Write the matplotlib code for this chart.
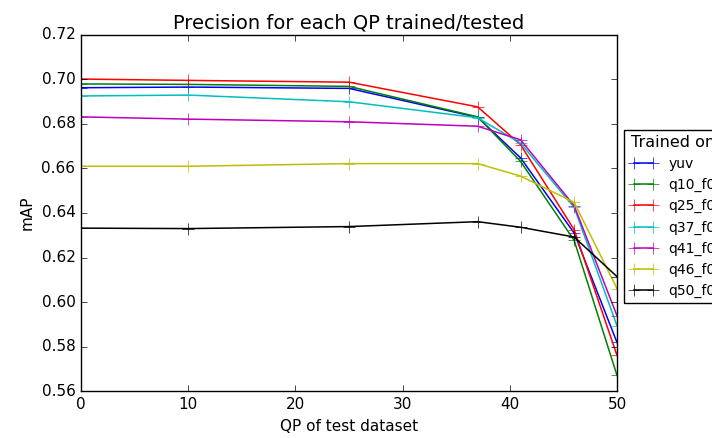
import matplotlib
matplotlib.use("Agg")
import matplotlib.pyplot as plt

plt.style.use('classic')

qp = [0, 10, 25, 37, 41, 46, 50]
labels = ["yuv", "q10_f0", "q25_f0", "q37_f0", "q41_f0", "q46_f0", "q50_f0"]
colors = ["b", "g", "r", "c", "m", "y", "k"]

yuv = [0.6963, 0.6966, 0.6960, 0.6830, 0.6648, 0.6310, 0.5818]
q10 = [0.6980, 0.6978, 0.6969, 0.6832, 0.6632, 0.6277, 0.5670]
q25 = [0.7002, 0.6996, 0.6988, 0.6877, 0.6707, 0.6325, 0.5760]
q37 = [0.6926, 0.6930, 0.6900, 0.6828, 0.6714, 0.6425, 0.5893]
q41 = [0.6832, 0.6822, 0.6810, 0.6790, 0.6729, 0.6433, 0.5938]
q46 = [0.6610, 0.6610, 0.6622, 0.6622, 0.6566, 0.6448, 0.6060]
q50 = [0.6332, 0.6330, 0.6339, 0.6361, 0.6336, 0.6292, 0.6114]

series = [yuv, q10, q25, q37, q41, q46, q50]

fig = plt.figure(figsize=(7.12, 4.38), dpi=100, facecolor='white')
ax = fig.add_axes([0.1138, 0.1073, 0.7528, 0.8128])

for vals, lab, c in zip(series, labels, colors):
    ax.plot(qp, vals, color=c, marker='+', markersize=9, label=lab, linewidth=1.1)

ax.set_xlim(0, 50)
ax.set_ylim(0.56, 0.72)
yt = [0.56, 0.58, 0.60, 0.62, 0.64, 0.66, 0.68, 0.70, 0.72]
ax.set_yticks(yt)
ax.set_yticklabels(["%.2f" % v for v in yt])
ax.tick_params(labelsize=11)
ax.set_xlabel("QP of test dataset", fontsize=11)
ax.set_ylabel("mAP", fontsize=11)
ax.set_title("Precision for each QP trained/tested", fontsize=14)

leg = ax.legend(title="Trained on", loc='center left', bbox_to_anchor=(1.0, 0.49),
                fontsize=10, numpoints=2, borderaxespad=0.5, fancybox=False)
leg.get_title().set_fontsize(11.5)

fig.savefig("out.png", dpi=100, facecolor='white')
